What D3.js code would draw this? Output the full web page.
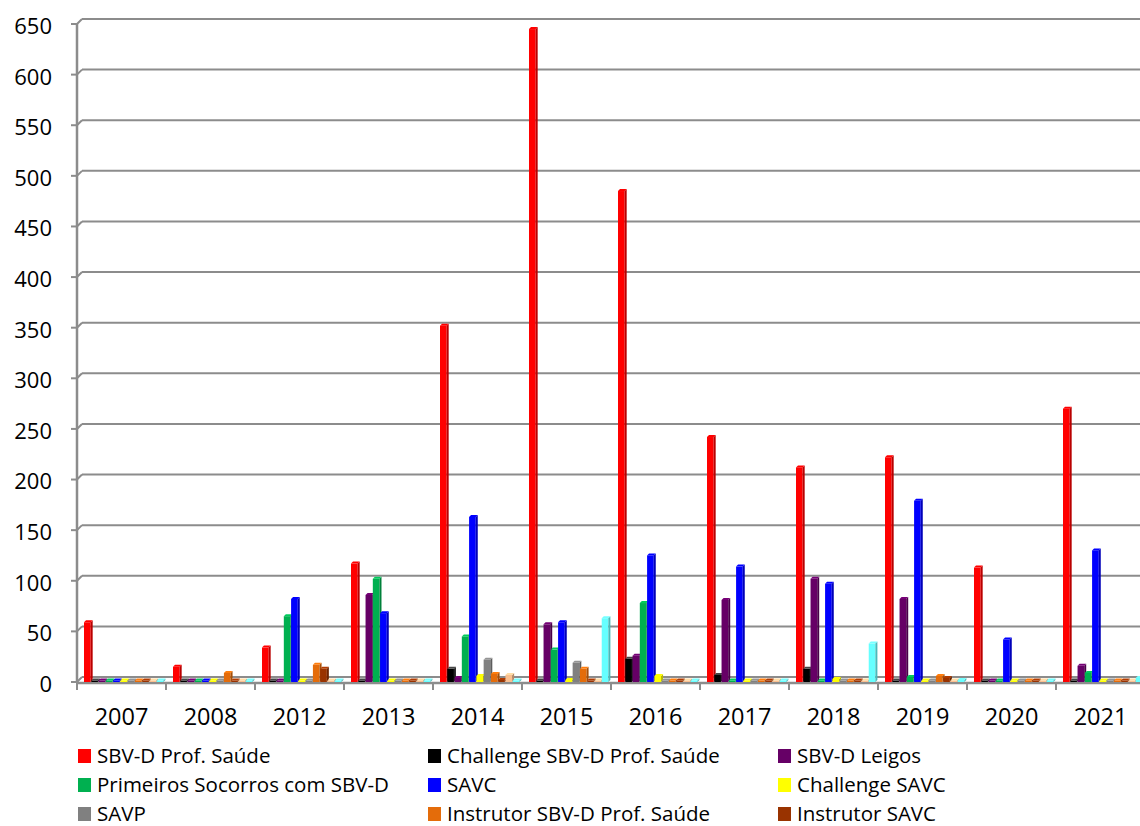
<!DOCTYPE html>
<html>
<head>
<meta charset="utf-8">
<script src="https://cdn.jsdelivr.net/npm/d3@7"></script>
<style>
  body { margin: 0; background: #fff; }
  text { font-family: "Open Sans", "Noto Sans", sans-serif; fill: #000; }
</style>
</head>
<body>
<svg id="chart" width="1140" height="826"></svg>
<script>
// Categories (years)
var years = ["2007", "2008", "2012", "2013", "2014", "2015", "2016", "2017", "2018", "2019", "2020", "2021"]

// Series names, in drawing order inside each year
var seriesNames = ["SBV-D Prof. Saúde", "Challenge SBV-D Prof. Saúde", "SBV-D Leigos",
  "Primeiros Socorros com SBV-D", "SAVC", "Challenge SAVC",
  "SAVP", "Instrutor SBV-D Prof. Saúde", "Instrutor SAVC",
  "Instrutor SAVP", "Outros"]

var seriesColors = ["#FF0000", "#000000", "#660066", "#00B050", "#0000FF", "#FFFF00",
  "#808080", "#E46C0A", "#993300", "#FAC090", "#66FFFF"]

// Values per series, one per year
var sbvdProf       = [59, 15, 34, 117, 352, 645, 485, 242, 212, 222, 113, 270]
var challengeSbvd  = [0, 0, 0, 0, 13, 0, 23, 7, 13, 1, 0, 0]
var sbvdLeigos     = [0, 0, 0, 86, 4, 57, 26, 81, 102, 82, 0, 16]
var primSocorros   = [0, 0, 65, 102, 45, 32, 78, 1, 0, 5, 0, 9]
var savc           = [0, 0, 82, 68, 163, 59, 125, 114, 97, 179, 42, 130]
var challengeSavc  = [0, 0, 1, 0, 6, 2, 6, 0, 3, 1, 0, 0]
var savp           = [0, 0, 0, 0, 22, 19, 0, 0, 0, 0, 0, 0]
var instrSbvd      = [0, 9, 17, 0, 8, 13, 0, 0, 0, 6, 0, 0]
var instrSavc      = [0, 1, 13, 0, 2, 1, 0, 0, 0, 4, 0, 0]
var instrSavp      = [0, 0, 0, 0, 7, 0, 0, 0, 0, 0, 0, 0]
var outros         = [0, 0, 0, 0, 1, 63, 0, 0, 38, 2, 0, 4]

var seriesValues = [sbvdProf, challengeSbvd, sbvdLeigos, primSocorros, savc, challengeSavc,
  savp, instrSbvd, instrSavc, instrSavp, outros]

var yTicks = d3.range(0, 651, 50)

var svg = d3.select("#chart")

var plotLeft = 77, plotBottom = 682, plotTop = 24
var depth = 2     // fake 3D depth of the bars
var wall = 5      // offset of the back wall

var x = d3.scaleBand().domain(years).range([plotLeft, plotLeft + 12 * 89])
var xs = d3.scaleBand().domain(d3.range(seriesNames.length)).range([7, 87]).paddingInner(0)
var y = d3.scaleLinear().domain([0, 650]).range([plotBottom, plotTop])

// Gridlines on the back wall
yTicks.forEach(function(t) {
  svg.append("line")
    .style("stroke", "#8c8c8c").style("stroke-width", 2)
    .attr("x1", plotLeft + wall).attr("y1", y(t) - wall)
    .attr("x2", 1140).attr("y2", y(t) - wall)
  svg.append("line")
    .style("stroke", "#8c8c8c").style("stroke-width", 2)
    .attr("x1", plotLeft).attr("y1", y(t))
    .attr("x2", plotLeft + wall).attr("y2", y(t) - wall)
  svg.append("line")
    .style("stroke", "#8c8c8c").style("stroke-width", 2)
    .attr("x1", plotLeft - 6).attr("y1", y(t))
    .attr("x2", plotLeft).attr("y2", y(t))
  svg.append("text")
    .text(t)
    .attr("x", 52).attr("y", y(t) + 2)
    .attr("dy", "0.36em")
    .attr("text-anchor", "end")
    .style("font-size", "22px")
})

// Axes lines
svg.append("line")
  .style("stroke", "#8c8c8c").style("stroke-width", 2.5)
  .attr("x1", plotLeft).attr("y1", y(650)).attr("x2", plotLeft).attr("y2", plotBottom + 1)
svg.append("line")
  .style("stroke", "#8c8c8c").style("stroke-width", 2.5)
  .attr("x1", plotLeft).attr("y1", plotBottom + 1).attr("x2", 1140).attr("y2", plotBottom + 1)

years.forEach(function(yr, i) {
  svg.append("line")
    .style("stroke", "#8c8c8c").style("stroke-width", 2)
    .attr("x1", x(yr)).attr("y1", plotBottom).attr("x2", x(yr)).attr("y2", plotBottom + 8)
  svg.append("text")
    .text(yr)
    .attr("x", x(yr) + x.bandwidth() / 2).attr("y", 717)
    .attr("dy", "0.36em")
    .attr("text-anchor", "middle")
    .style("font-size", "23.5px")
})

// Bars
var bars = []
years.forEach(function(yr, i) {
  seriesValues.forEach(function(vals, s) {
    bars.push({ year: yr, s: s, v: vals[i] })
  })
})

var w = xs.bandwidth() - 0.6
var g = svg.append("g")

bars.forEach(function(d) {
  var x0 = x(d.year) + xs(d.s)
  var y0 = Math.min(y(d.v), plotBottom - 1.5)
  var c = d3.color(seriesColors[d.s])
  var side = d.s == 1 ? "#222" : c.darker(0.9).formatHex()
  var topc = d.s == 1 ? "#444" : c.brighter(0.4).formatHex()
  // front face
  g.append("rect")
    .attr("x", x0).attr("y", y0)
    .attr("width", w).attr("height", plotBottom - y0)
    .attr("fill", c.formatHex())
  // side face
  g.append("polygon")
    .attr("points", [[x0 + w, y0], [x0 + w + depth, y0 - depth], [x0 + w + depth, plotBottom - depth], [x0 + w, plotBottom]].join(" "))
    .attr("fill", side)
  // top face
  g.append("polygon")
    .attr("points", [[x0, y0], [x0 + depth, y0 - depth], [x0 + w + depth, y0 - depth], [x0 + w, y0]].join(" "))
    .attr("fill", topc)
})

// Legend (only the first nine entries are visible)
var legendCols = [78, 428, 778]
var legendRows = [756, 785, 814]
seriesNames.slice(0, 9).forEach(function(name, i) {
  var lx = legendCols[i % 3]
  var ly = legendRows[Math.floor(i / 3)]
  svg.append("rect")
    .attr("x", lx).attr("y", ly - 7)
    .attr("width", 13).attr("height", 14)
    .attr("fill", seriesColors[i])
  svg.append("text")
    .text(name)
    .attr("x", lx + 19).attr("y", ly)
    .attr("dy", "0.36em")
    .style("font-size", "20.5px")
})
</script>
</body>
</html>
